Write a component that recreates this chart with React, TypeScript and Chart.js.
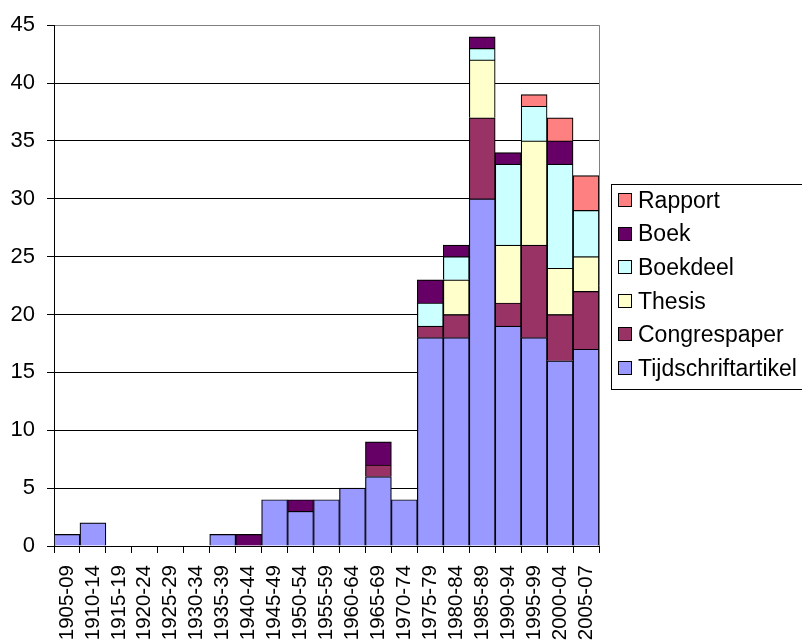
import React, { useEffect, useRef } from "react";
import { Chart, registerables } from "chart.js";

Chart.register(...registerables);

const categories = [
  "1905-09", "1910-14", "1915-19", "1920-24", "1925-29", "1930-34", "1935-39",
  "1940-44", "1945-49", "1950-54", "1955-59", "1960-64", "1965-69", "1970-74",
  "1975-79", "1980-84", "1985-89", "1990-94", "1995-99", "2000-04", "2005-07",
];

const tijdschriftartikel = [1, 2, 0, 0, 0, 0, 1, 0, 4, 3, 4, 5, 6, 4, 18, 18, 30, 19, 18, 16, 17];
const congrespaper = [0, 0, 0, 0, 0, 0, 0, 0, 0, 0, 0, 0, 1, 0, 1, 2, 7, 2, 8, 4, 5];
const thesis = [0, 0, 0, 0, 0, 0, 0, 0, 0, 0, 0, 0, 0, 0, 0, 3, 5, 5, 9, 4, 3];
const boekdeel = [0, 0, 0, 0, 0, 0, 0, 0, 0, 0, 0, 0, 0, 0, 2, 2, 1, 7, 3, 9, 4];
const boek = [0, 0, 0, 0, 0, 0, 0, 1, 0, 1, 0, 0, 2, 0, 2, 1, 1, 1, 0, 2, 0];
const rapport = [0, 0, 0, 0, 0, 0, 0, 0, 0, 0, 0, 0, 0, 0, 0, 0, 0, 0, 1, 2, 3];

const seriesNames = ["Tijdschriftartikel", "Congrespaper", "Thesis", "Boekdeel", "Boek", "Rapport"];
const seriesColors = ["#9999FF", "#993366", "#FFFFCC", "#CCFFFF", "#660066", "#FF8080"];
const seriesValues = [tijdschriftartikel, congrespaper, thesis, boekdeel, boek, rapport];

const yTicks = [0, 5, 10, 15, 20, 25, 30, 35, 40, 45];

const FONT = "'Liberation Sans', Arial, sans-serif";

const boxLegend = {
  id: "boxLegend",
  afterDraw(chart: any) {
    const ctx = chart.ctx;
    const area = chart.chartArea;
    ctx.save();
    ctx.strokeStyle = "#808080";
    ctx.lineWidth = 1;
    ctx.beginPath();
    ctx.moveTo(Math.round(area.right) + 0.5, area.top);
    ctx.lineTo(Math.round(area.right) + 0.5, area.bottom);
    ctx.stroke();

    const lx = 611.5, ly = 184.5, lw = 200, lh = 205;
    ctx.fillStyle = "#ffffff";
    ctx.fillRect(lx, ly, lw, lh);
    ctx.strokeStyle = "#000000";
    ctx.strokeRect(lx, ly, lw, lh);
    const ds = chart.data.datasets;
    const n = ds.length;
    ctx.font = `23px ${FONT}`;
    ctx.textBaseline = "middle";
    ctx.textAlign = "left";
    for (let i = 0; i < n; i++) {
      const d = ds[n - 1 - i];
      const cy = 200 + i * 33.6;
      ctx.fillStyle = d.backgroundColor;
      ctx.fillRect(618, Math.round(cy - 7), 14, 14);
      ctx.strokeStyle = "#000";
      ctx.strokeRect(618.5, Math.round(cy - 7) + 0.5, 13, 13);
      ctx.fillStyle = "#000";
      ctx.fillText(d.label, 638, cy + 1.5);
    }
    ctx.restore();
  },
};

export default function App() {
  const ref = useRef<HTMLCanvasElement | null>(null);
  useEffect(() => {
    if (!ref.current) return;
    const chart = new Chart(ref.current, {
      type: "bar",
      data: {
        labels: categories,
        datasets: seriesNames.map((name, i) => ({
          label: name,
          data: seriesValues[i],
          backgroundColor: seriesColors[i],
          borderColor: "#000000",
          borderWidth: 1.2,
          barPercentage: 1,
          categoryPercentage: 1,
        })),
      },
      options: {
        responsive: false,
        animation: false,
        devicePixelRatio: 1,
        layout: { padding: { top: 19, right: 203, left: 0, bottom: 0 } },
        plugins: {
          legend: { display: false },
          tooltip: { enabled: false },
        },
        scales: {
          x: {
            stacked: true,
            afterFit: (s: any) => { s.height = 97; },
            grid: {
              drawOnChartArea: false,
              drawTicks: true,
              tickLength: 7,
              tickColor: "#000",
              offset: true,
            },
            border: { color: "#000", width: 1 },
            ticks: {
              autoSkip: false,
              minRotation: 90,
              maxRotation: 90,
              padding: 12,
              color: "#000",
              font: { family: FONT, size: 20.5 },
            },
          },
          y: {
            stacked: true,
            min: 0,
            max: 45,
            afterFit: (s: any) => { s.width = 54; },
            afterBuildTicks: (s: any) => { s.ticks = yTicks.map((v) => ({ value: v })); },
            grid: {
              color: (c: any) => (c.tick && c.tick.value === 45 ? "#808080" : "#000000"),
              drawTicks: true,
              tickLength: 7,
              tickColor: "#000",
            },
            border: { color: "#000", width: 1 },
            ticks: {
              stepSize: 5,
              padding: 12,
              color: "#000",
              font: { family: FONT, size: 22 },
            },
          },
        },
      },
      plugins: [boxLegend],
    });
    return () => chart.destroy();
  }, []);
  return (
    <div style={{ position: "absolute", left: 0, top: 0, width: 802, height: 643, background: "#fff" }}>
      <canvas ref={ref} width={802} height={643} style={{ display: "block", width: 802, height: 643 }} />
    </div>
  );
}
